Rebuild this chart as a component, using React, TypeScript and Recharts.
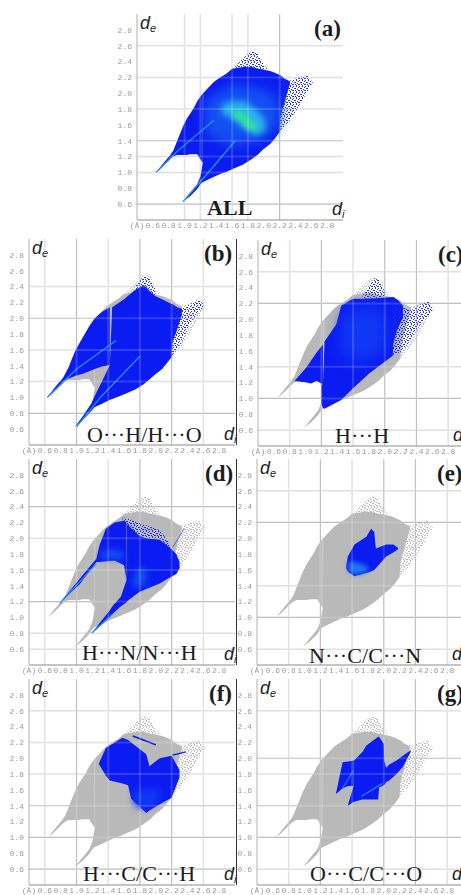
import { Area, CartesianGrid, ComposedChart, Line, ReferenceLine, XAxis, YAxis } from "recharts";

type Band = [number, number, number][];
type Trace = [number, number][];

const DOMAIN: [number, number] = [0.4, 3.0];
const diTicks = [0.4, 0.6, 0.8, 1.0, 1.2, 1.4, 1.6, 1.8, 2.0, 2.2, 2.4, 2.6, 2.8];
const deTicks = [0.6, 0.8, 1.0, 1.2, 1.4, 1.6, 1.8, 2.0, 2.2, 2.4, 2.6, 2.8];

const GREY = "#b9b9b9";
const BLUE = "#0a1cf2";
const MID = "#1450f2";
const SOFT = "#1038f4";
const CYAN = "#2ab4e8";
const GREEN = "#30e0a0";

// whole surface outline, [di, de low, de high]
const outlineLeft: Band = [
  [0.64, 1.0, 1.0], [0.72, 1.07, 1.1], [0.82, 1.17, 1.22], [0.86, 1.2, 1.28], [0.9, 1.22, 1.38], [0.98, 1.22, 1.58],
  [1.03, 1.22, 1.68], [1.07, 1.23, 1.74], [1.12, 1.23, 1.82], [1.16, 1.23, 1.9], [1.23, 1.12, 2.0],
];
const outlineMain: Band = [
  [0.98, 0.63, 0.63], [1.07, 0.7, 0.74], [1.16, 0.79, 0.85], [1.2, 0.85, 0.95], [1.23, 0.88, 1.12],
  [1.235, 0.88, 2.0], [1.32, 0.92, 2.09], [1.38, 0.95, 2.15], [1.45, 0.98, 2.2], [1.53, 1.01, 2.25], [1.6, 1.04, 2.31],
  [1.74, 1.1, 2.33], [1.85, 1.17, 2.33], [1.93, 1.23, 2.31], [1.99, 1.29, 2.3], [2.08, 1.36, 2.28],
  [2.14, 1.43, 2.26], [2.2, 1.51, 2.23], [2.21, 1.7, 2.22], [2.27, 1.91, 2.18], [2.33, 2.12, 2.15],
];
const outlineMound: Band = [
  [1.62, 2.3, 2.32], [1.74, 2.32, 2.44], [1.85, 2.32, 2.54], [1.93, 2.31, 2.5],
  [1.99, 2.29, 2.38], [2.05, 2.27, 2.3],
];
const outlineLobe: Band = [
  [2.2, 1.51, 2.23], [2.33, 1.66, 2.16], [2.44, 1.83, 2.2], [2.54, 2.0, 2.23], [2.62, 2.14, 2.14],
];

// (a) inner colours
const allHalo: Band = [[1.25, 1.5, 1.9], [1.6, 1.32, 2.12], [2.0, 1.42, 2.06], [2.2, 1.6, 1.92]];
const allCyan: Band = [[1.47, 1.74, 1.86], [1.6, 1.68, 1.9], [1.75, 1.55, 1.9], [1.9, 1.46, 1.8], [2.02, 1.52, 1.66]];
const allGreen: Band = [[1.62, 1.68, 1.76], [1.7, 1.66, 1.78], [1.78, 1.56, 1.72], [1.9, 1.52, 1.6]];
const allSpikeUpper: Trace = [[0.64, 1.0], [0.9, 1.26], [1.37, 1.66]];
const allSpikeLower: Trace = [[0.98, 0.63], [1.3, 1.0], [1.64, 1.4]];

// (b) O...H / H...O
const ohLeft: Band = [
  [0.63, 1.0, 1.0], [0.72, 1.09, 1.12], [0.83, 1.2, 1.25], [0.9, 1.24, 1.38], [0.98, 1.27, 1.58],
  [1.08, 1.3, 1.76], [1.16, 1.33, 1.9], [1.23, 1.36, 2.0], [1.32, 1.39, 2.08], [1.42, 1.41, 2.14],
];
const ohMain: Band = [
  [0.98, 0.63, 0.63], [1.07, 0.71, 0.75], [1.185, 0.83, 0.92], [1.23, 0.88, 1.02], [1.32, 0.92, 1.2],
  [1.42, 0.97, 1.41], [1.45, 0.98, 2.14], [1.6, 1.04, 2.24], [1.74, 1.1, 2.36], [1.85, 1.17, 2.42],
  [1.99, 1.29, 2.28], [2.08, 1.36, 2.24], [2.2, 1.51, 2.18], [2.21, 1.7, 2.18], [2.27, 1.85, 2.14], [2.33, 2.05, 2.12],
];
const ohMound: Band = [[1.74, 2.34, 2.4], [1.85, 2.38, 2.54], [1.93, 2.32, 2.52], [1.99, 2.26, 2.38]];
const ohLobe: Band = [[2.2, 1.51, 2.18], [2.33, 1.7, 2.12], [2.44, 1.95, 2.18], [2.54, 2.08, 2.24], [2.6, 2.14, 2.18]];
const ohSpikeUpper: Trace = [[0.63, 1.0], [1.0, 1.36], [1.5, 1.72]];
const ohSpikeLower: Trace = [[1.0, 0.63], [1.3, 1.0], [1.8, 1.52]];

// (c) H...H
const hhLeft: Band = [[0.86, 1.22, 1.22], [1.01, 1.2, 1.39], [1.07, 1.19, 1.48], [1.14, 1.22, 1.58], [1.22, 1.18, 1.68]];
const hhMain: Band = [
  [1.2, 0.93, 1.18], [1.22, 0.88, 1.18], [1.24, 0.87, 1.72], [1.39, 0.95, 1.94], [1.45, 0.98, 2.17], [1.6, 1.13, 2.26],
  [1.81, 1.32, 2.26], [2.1, 1.54, 2.28], [2.11, 1.72, 2.28], [2.17, 1.9, 2.24], [2.23, 2.02, 2.17],
];
const hhMound: Band = [[1.72, 2.26, 2.3], [1.87, 2.26, 2.52], [1.95, 2.28, 2.48], [2.0, 2.28, 2.35]];
const hhLobe: Band = [[2.1, 1.55, 2.2], [2.23, 1.6, 2.17], [2.33, 1.75, 2.11], [2.46, 1.95, 2.19], [2.56, 2.05, 2.23], [2.61, 2.13, 2.13]];
const hhGlow: Band = [[1.45, 1.55, 2.05], [1.7, 1.45, 2.15], [2.0, 1.6, 2.1]];

// (d) H...N / N...H
const hnUpper: Band = [
  [0.786, 1.18, 1.18], [1.04, 1.42, 1.49], [1.25, 1.7, 1.74], [1.29, 1.7, 1.91], [1.37, 1.71, 2.12],
  [1.48, 1.72, 2.2], [1.6, 1.66, 2.22], [1.63, 1.47, 2.2],
];
const hnLower: Band = [
  [1.19, 0.8, 0.8], [1.42, 1.0, 1.09], [1.46, 1.05, 1.15], [1.56, 1.14, 1.26], [1.63, 1.19, 1.47],
  [1.635, 1.2, 2.18], [1.79, 1.32, 2.03], [1.88, 1.36, 2.0], [2.05, 1.43, 1.98], [2.17, 1.5, 1.89], [2.26, 1.55, 1.8], [2.3, 1.62, 1.7],
];
const hnSparse: Band = [[1.58, 2.2, 2.27], [1.79, 2.03, 2.2], [2.05, 1.98, 2.1], [2.17, 1.89, 1.95]];
const hnGlow: Band = [[1.3, 1.74, 1.82], [1.45, 1.74, 1.86], [1.6, 1.74, 1.82]];
const hnGlowLower: Band = [[1.72, 1.38, 1.5], [1.8, 1.38, 1.65], [1.88, 1.42, 1.6]];
const hnSpikeUpper: Trace = [[0.79, 1.18], [1.25, 1.68]];
const hnSpikeLower: Trace = [[1.19, 0.8], [1.45, 1.04]];
const hnStray: Trace = [[2.21, 1.88], [2.36, 2.12]];

// (e) N...C / C...N
const ncBlue: Band = [
  [1.525, 1.62, 1.64], [1.546, 1.58, 1.77], [1.63, 1.52, 1.92], [1.78, 1.56, 2.02], [1.84, 1.58, 2.12],
  [1.88, 1.6, 2.08], [1.9, 1.62, 1.87], [2.03, 1.77, 1.92], [2.12, 1.82, 1.92], [2.18, 1.86, 1.88],
];
const ncGlow: Band = [[1.55, 1.58, 1.7], [1.65, 1.54, 1.7], [1.8, 1.58, 1.64]];

// (f) H...C / C...H
const hcBlue: Band = [
  [1.28, 1.93, 1.93], [1.37, 1.78, 2.13], [1.42, 1.72, 2.16], [1.58, 1.68, 2.26], [1.65, 1.66, 2.23],
  [1.69, 1.49, 2.2], [1.88, 1.31, 2.05], [1.92, 1.34, 1.9], [2.05, 1.42, 2.0], [2.2, 1.5, 2.03], [2.3, 1.76, 1.85],
];
const hcGlow: Band = [[1.72, 1.4, 1.6], [1.88, 1.36, 1.62], [2.05, 1.46, 1.6]];
const hcStripe: Trace = [[1.71, 2.28], [2.0, 2.17]];
const hcTail: Trace = [[2.21, 2.04], [2.38, 2.08]];

// (g) O...C / C...O
const ocLeft: Band = [[1.4, 1.55, 1.57], [1.48, 1.62, 1.95], [1.55, 1.65, 1.96], [1.62, 1.65, 1.97]];
const ocMain: Band = [
  [1.55, 1.4, 1.42], [1.62, 1.45, 1.65], [1.625, 1.45, 1.97], [1.73, 1.48, 2.08], [1.78, 1.48, 2.16],
  [1.93, 1.48, 2.27], [1.94, 1.63, 2.27], [2.0, 1.66, 2.18], [2.005, 1.66, 1.97], [2.03, 1.7, 1.88],
  [2.07, 1.72, 1.92], [2.16, 1.8, 1.97], [2.24, 1.89, 2.03], [2.34, 2.08, 2.1],
];
const ocSpike: Trace = [[1.72, 1.52], [1.98, 1.68]];
const ocSpikeLeft: Trace = [[1.48, 1.62], [1.62, 1.85]];

type Layer = { band: Band; fill: string; blur?: number };
type Stroke = { trace: Trace; color: string; width: number };
type PanelSpec = {
  id: string;
  left: number;
  top: number;
  letter: string;
  caption: string;
  captionX: number;
  captionY: number;
  captionBold?: boolean;
  letterX: number;
  gridX: [number[], number[]];
  gridY: [number[], number[]];
  rightEdge?: boolean;
  layers: Layer[];
  strokes: Stroke[];
};

const greyBase: Layer[] = [
  { band: outlineLeft, fill: GREY },
  { band: outlineMain, fill: GREY },
  { band: outlineMound, fill: "url(#speckGrey)" },
  { band: outlineLobe, fill: "url(#speckGrey)" },
];

const panels: PanelSpec[] = [
  {
    id: "a", left: 137, top: 14, letter: "(a)", caption: "ALL", captionX: 207, captionY: 215, captionBold: true, letterX: 314,
    gridX: [[2.2], [1.0, 1.2, 1.6, 1.8]], gridY: [[0.6, 1.4], [1.0, 1.2, 1.8, 2.2, 2.6]],
    layers: [
      { band: outlineLeft, fill: BLUE },
      { band: outlineMain, fill: BLUE },
      { band: outlineMound, fill: "url(#speckBlue)" },
      { band: outlineLobe, fill: "url(#speckBlue)" },
      { band: allHalo, fill: MID, blur: 6 },
      { band: allCyan, fill: CYAN, blur: 3 },
      { band: allGreen, fill: GREEN, blur: 2 },
    ],
    strokes: [
      { trace: allSpikeUpper, color: "#2a8cf0", width: 1.3 },
      { trace: allSpikeLower, color: "#2a8cf0", width: 1.3 },
    ],
  },
  {
    id: "b", left: 29, top: 239, letter: "(b)", caption: "O···H/H···O", captionX: 87, captionY: 442, letterX: 204, rightEdge: true,
    gridX: [[1.0, 1.8, 2.2], [0.6, 1.4, 2.6]], gridY: [[0.8, 2.0], [1.2, 1.6, 2.4]],
    layers: [
      ...greyBase,
      { band: ohLeft, fill: BLUE },
      { band: ohMain, fill: BLUE },
      { band: ohMound, fill: "url(#speckBlue)" },
      { band: ohLobe, fill: "url(#speckBlue)" },
    ],
    strokes: [
      { trace: ohSpikeUpper, color: "#2a8cf0", width: 1.3 },
      { trace: ohSpikeLower, color: "#2a8cf0", width: 1.3 },
    ],
  },
  {
    id: "c", left: 258, top: 240, letter: "(c)", caption: "H···H", captionX: 335, captionY: 443, letterX: 438,
    gridX: [[1.2, 2.0, 2.4], [0.8, 1.6, 2.8]], gridY: [[1.0, 2.2], [0.6, 1.4, 2.6]],
    layers: [
      ...greyBase,
      { band: hhLeft, fill: BLUE },
      { band: hhMain, fill: BLUE },
      { band: hhMound, fill: "url(#speckBlue)" },
      { band: hhLobe, fill: "url(#speckBlue)" },
      { band: hhGlow, fill: SOFT, blur: 7 },
    ],
    strokes: [],
  },
  {
    id: "d", left: 29, top: 459, letter: "(d)", caption: "H···N/N···H", captionX: 82, captionY: 660, letterX: 205, rightEdge: true,
    gridX: [[1.0, 1.8, 2.2], [0.6, 1.4, 2.6]], gridY: [[1.2, 2.4], [0.6, 0.8, 1.6, 2.0]],
    layers: [
      ...greyBase,
      { band: hnSparse, fill: "url(#speckBlue)" },
      { band: hnUpper, fill: BLUE },
      { band: hnLower, fill: BLUE },
      { band: hnGlow, fill: MID, blur: 3 },
      { band: hnGlowLower, fill: MID, blur: 3 },
    ],
    strokes: [
      { trace: hnSpikeUpper, color: "#2a8cf0", width: 1.3 },
      { trace: hnSpikeLower, color: "#2a8cf0", width: 1.3 },
      { trace: hnStray, color: "#3a50f0", width: 0.8 },
    ],
  },
  {
    id: "e", left: 257, top: 459, letter: "(e)", caption: "N···C/C···N", captionX: 309, captionY: 663, letterX: 437,
    gridX: [[1.2, 2.0, 2.4], [0.8, 1.6, 2.8]], gridY: [[1.0, 2.2], [0.6, 1.4, 2.6]],
    layers: [
      ...greyBase,
      { band: ncBlue, fill: BLUE },
      { band: ncGlow, fill: "#1e78f0", blur: 2 },
    ],
    strokes: [],
  },
  {
    id: "f", left: 29, top: 679, letter: "(f)", caption: "H···C/C···H", captionX: 83, captionY: 881, letterX: 209, rightEdge: true,
    gridX: [[1.0, 1.8, 2.2], [0.6, 1.4, 2.6]], gridY: [[0.6, 1.0, 1.4], [1.8, 2.2, 2.6]],
    layers: [
      ...greyBase,
      { band: hcBlue, fill: BLUE },
      { band: hcGlow, fill: SOFT, blur: 3 },
    ],
    strokes: [
      { trace: hcStripe, color: BLUE, width: 1.6 },
      { trace: hcTail, color: BLUE, width: 1.2 },
    ],
  },
  {
    id: "g", left: 257, top: 679, letter: "(g)", caption: "O···C/C···O", captionX: 310, captionY: 881, letterX: 437,
    gridX: [[1.2, 2.0, 2.4], [0.8, 1.6, 2.8]], gridY: [[1.0, 1.4, 2.0], [0.6, 1.8, 2.6]],
    layers: [
      ...greyBase,
      { band: ocLeft, fill: BLUE },
      { band: ocMain, fill: BLUE },
    ],
    strokes: [
      { trace: ocSpike, color: "#2a7cf0", width: 1.4 },
      { trace: ocSpikeLeft, color: "#2a6cf0", width: 1.2 },
    ],
  },
];

const PLOT = 206;
const AXIS_W = 30;
const AXIS_H = 16;

const tickStyle = { fontFamily: "Liberation Mono", fontSize: 8, fill: "#9a9a9a" };

function Speck({ id, color }: { id: string; color: string }) {
  return (
    <pattern id={id} width="6" height="6" patternUnits="userSpaceOnUse">
      <rect x="0" y="0" width="1" height="1" fill={color} />
      <rect x="3" y="0" width="1" height="1" fill={color} />
      <rect x="5" y="1" width="1" height="1" fill={color} />
      <rect x="1" y="2" width="1" height="1" fill={color} />
      <rect x="2" y="2" width="1" height="1" fill={color} />
      <rect x="4" y="3" width="1" height="1" fill={color} />
      <rect x="0" y="4" width="1" height="1" fill={color} />
      <rect x="2" y="4" width="1" height="1" fill={color} />
      <rect x="5" y="4" width="1" height="1" fill={color} />
      <rect x="3" y="5" width="1" height="1" fill={color} />
    </pattern>
  );
}

function Panel({ p }: { p: PanelSpec }) {
  const allX = [...p.gridX[0], ...p.gridX[1]];
  const allY = [...p.gridY[0], ...p.gridY[1]];
  return (
    <div style={{ position: "absolute", left: p.left - AXIS_W, top: p.top, filter: "blur(0.35px)" }}>
      <ComposedChart
        width={AXIS_W + PLOT + 2}
        height={PLOT + AXIS_H}
        margin={{ top: 0, right: 2, bottom: 0, left: 0 }}
      >
        <defs>
          <Speck id="speckGrey" color="#bcbcbc" />
          <Speck id="speckBlue" color="#1a2cf4" />
        </defs>
        <CartesianGrid verticalValues={p.gridX[1]} horizontalValues={p.gridY[1]} stroke="#dcdcdc" strokeWidth={1.5} />
        <CartesianGrid verticalValues={p.gridX[0]} horizontalValues={p.gridY[0]} stroke="#b4b4b4" strokeWidth={1.2} />
        <XAxis
          dataKey="di"
          type="number"
          domain={DOMAIN}
          ticks={diTicks}
          interval={0}
          allowDataOverflow
          height={AXIS_H}
          tickSize={0}
          tickMargin={2}
          tick={tickStyle}
          stroke="#8c8c8c"
          tickFormatter={(v: number) => (v === 0.4 ? "(Å)" : v.toFixed(1))}
        />
        <YAxis
          type="number"
          domain={DOMAIN}
          ticks={deTicks}
          interval={0}
          allowDataOverflow
          width={AXIS_W}
          tickSize={0}
          tickMargin={5}
          tick={tickStyle}
          stroke="#b0b0b0"
          tickFormatter={(v: number) => v.toFixed(1)}
        />
        {p.layers.map((l, i) => (
          <Area
            key={`band${i}`}
            data={l.band.map(([di, low, high]) => ({ di, range: [low, high] }))}
            dataKey="range"
            type="linear"
            fill={l.fill}
            fillOpacity={1}
            stroke="none"
            dot={false}
            activeDot={false}
            isAnimationActive={false}
            style={l.blur ? { filter: `blur(${l.blur}px)` } : undefined}
          />
        ))}
        {p.strokes.map((s, i) => (
          <Line
            key={`trace${i}`}
            data={s.trace.map(([di, de]) => ({ di, de }))}
            dataKey="de"
            type="linear"
            stroke={s.color}
            strokeWidth={s.width}
            dot={false}
            activeDot={false}
            isAnimationActive={false}
          />
        ))}
        {allX.map((v) => (
          <ReferenceLine key={`x${v}`} x={v} stroke="#ffffff" strokeWidth={2} strokeOpacity={0.16} />
        ))}
        {allY.map((v) => (
          <ReferenceLine key={`y${v}`} y={v} stroke="#ffffff" strokeWidth={2} strokeOpacity={0.16} />
        ))}
      </ComposedChart>
    </div>
  );
}

const italic = { position: "absolute", fontFamily: "Liberation Sans", fontStyle: "italic", fontSize: 18, color: "#222", lineHeight: "18px" } as const;
const serif = { position: "absolute", fontFamily: "Liberation Serif", color: "#1c1c1c", whiteSpace: "nowrap" } as const;

export default function App() {
  return (
    <div style={{ position: "absolute", left: 0, top: 0, width: 461, height: 895, overflow: "hidden", background: "#fff" }}>
      {panels.map((p) => (
        <Panel key={p.id} p={p} />
      ))}
      {panels.map((p) => (
        <div key={`t${p.id}`}>
          {p.rightEdge && (
            <div style={{ position: "absolute", left: p.left + PLOT + 0.5, top: p.top, width: 1, height: PLOT, background: "#333" }} />
          )}
          <div style={{ ...italic, left: p.left + 3, top: p.top }}>
            d<span style={{ fontSize: 11, position: "relative", top: 3 }}>e</span>
          </div>
          <div style={{ ...italic, left: p.left + 195, top: p.top + PLOT - 20 }}>
            d<span style={{ fontSize: 11, position: "relative", top: 3 }}>i</span>
          </div>
          <div style={{ ...serif, left: p.letterX, top: p.top + 3, fontSize: 23, fontWeight: 700, lineHeight: "24px" }}>{p.letter}</div>
          <div
            style={{
              ...serif,
              left: p.captionX,
              top: p.captionY - 20,
              fontSize: 22,
              lineHeight: "25px",
              fontWeight: p.captionBold ? 700 : 400,
              letterSpacing: 0.1,
            }}
          >
            {p.caption}
          </div>
        </div>
      ))}
    </div>
  );
}
